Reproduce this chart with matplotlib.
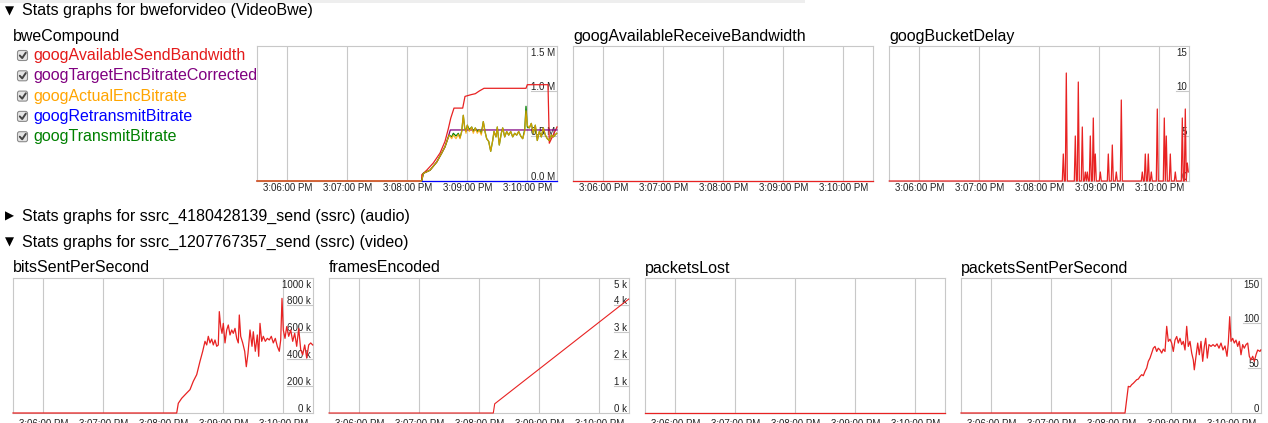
import numpy as np
import matplotlib
matplotlib.use('Agg')
import matplotlib.pyplot as plt
from matplotlib.patches import FancyBboxPatch, Rectangle

W, H = 1268, 423
plt.rcParams['font.family'] = ['Liberation Sans', 'DejaVu Sans']

GRID = '#c8c8c8'

# time axis in seconds after 3:06:00 PM
time_ticks = [0, 60, 120, 180, 240]
time_labels = ['3:06:00 PM', '3:07:00 PM', '3:08:00 PM', '3:09:00 PM', '3:10:00 PM']
t_min, t_max = -30.3, 269.7

# bweCompound (values in M)
send_bw_t = [-30.3, 134.4, 134.5, 139.4, 146, 152.7, 157.7, 161, 163.5, 166.7, 175.4, 177.7, 184, 188,
             192, 196.7, 238.7, 240, 260.7, 262, 269.7]
send_bw_v = [0, 0, 0.07, 0.12, 0.20, 0.31, 0.44, 0.58, 0.70, 0.81, 0.81, 0.94, 0.96, 0.97,
             1.0, 1.03, 1.03, 1.07, 1.07, 0.42, 0.60]

target_t = [-30.3, 134.4, 136, 142.7, 149.4, 154.4, 157.7, 160, 163, 269.7]
target_v = [0, 0, 0.085, 0.12, 0.21, 0.31, 0.38, 0.455, 0.567, 0.567]

actual_t = [-30.3, 134.4, 136, 142.7, 149.4, 154.4, 157.7, 160, 162, 164.4, 166, 168.7, 171, 172.7,
            174.4, 176, 177.4, 178.7, 180, 182, 184.4, 186, 188, 190, 192, 194, 196, 197.7, 199.4,
            201.4, 203.4, 205.4, 206.7, 208.7, 210, 212, 214, 215.4, 217.4, 219.4, 221.4, 223.4,
            225.4, 227.4, 229.4, 231.4, 233.4, 235.4, 237.4, 238.7, 240, 242, 244, 246, 248, 250,
            252, 254, 256, 258, 260, 262, 264, 266, 269.4]
actual_v = [0, 0, 0.085, 0.12, 0.21, 0.31, 0.38, 0.455, 0.51, 0.47, 0.51, 0.47, 0.52, 0.47,
            0.55, 0.73, 0.59, 0.53, 0.62, 0.55, 0.60, 0.53, 0.59, 0.53, 0.57, 0.51, 0.66, 0.55, 0.47,
            0.44, 0.33, 0.45, 0.55, 0.49, 0.60, 0.40, 0.53, 0.59, 0.49, 0.55, 0.51, 0.55,
            0.49, 0.53, 0.51, 0.55, 0.50, 0.47, 0.55, 0.78, 0.62, 0.59, 0.64, 0.53, 0.62, 0.45,
            0.55, 0.49, 0.59, 0.51, 0.47, 0.45, 0.51, 0.49, 0.53]

retransmit_t = [134.4, 269.7]
retransmit_v = [0, 0]

transmit_t = actual_t[1:]
transmit_v = [0, 0.085, 0.12, 0.21, 0.31, 0.38, 0.455, 0.51, 0.49, 0.53, 0.50, 0.53, 0.48,
              0.55, 0.73, 0.59, 0.55, 0.62, 0.57, 0.60, 0.55, 0.59, 0.55, 0.57, 0.53, 0.66, 0.55, 0.47,
              0.44, 0.33, 0.45, 0.55, 0.49, 0.60, 0.40, 0.53, 0.59, 0.49, 0.55, 0.51, 0.55,
              0.49, 0.53, 0.51, 0.55, 0.50, 0.47, 0.57, 0.83, 0.60, 0.59, 0.64, 0.53, 0.62, 0.45,
              0.55, 0.49, 0.59, 0.51, 0.47, 0.45, 0.51, 0.49, 0.53]

# googBucketDelay: one sample per second, spikes only
delay_spike_t = [144, 147, 156, 159, 163, 166, 168, 171, 174, 176, 181, 189, 193, 197, 202,
                 223, 226, 229, 232, 238, 245, 247, 251, 256, 263, 266, 268, 269]
delay_spike_v = [3, 12, 5, 11, 6, 1, 1, 5, 7, 3, 1, 3, 4, 1, 9,
                 1, 3, 3, 1, 8, 7, 5, 3, 1, 7, 8, 2, 1]

# bitsSentPerSecond (k)
bits_t = [-30.3, 133.4, 135, 138.4, 143.4, 146.7, 150, 153.4, 156.7, 159.4, 161.7, 163.4, 165, 166.7,
          168.4, 170, 171.7, 173.4, 175, 176, 177.4, 178.7, 180, 181.7, 183.4, 185, 186.7, 188.4,
          190, 191.7, 193.4, 195, 196, 197.4, 199.4, 201.4, 203, 204.7, 206.7, 208.7, 210, 212,
          214, 215.4, 216.7, 218.4, 220, 222, 224, 226, 228, 230, 232, 234, 236, 237.4, 238.7,
          240, 241.7, 243.4, 245.4, 247.4, 249.4, 251.4, 253.4, 255.4, 257.4, 259.4, 261.4, 263.4,
          265.4, 267.4, 269.4]
bits_v = [0, 0, 72, 109, 148, 173, 235, 284, 383, 457, 531, 504, 568, 519,
          548, 504, 541, 494, 504, 751, 640, 590, 664, 519, 615, 652, 578, 615,
          590, 627, 553, 519, 726, 568, 519, 457, 343, 442, 615, 494, 602, 457,
          578, 420, 664, 531, 568, 531, 553, 541, 568, 519, 553, 494, 457, 541, 849,
          615, 553, 640, 568, 615, 531, 590, 494, 627, 469, 432, 504, 407,
          504, 519, 504]

# framesEncoded
frames_t = [-30.3, 134, 135.4, 269.4]
frames_v = [0, 0, 340, 4220]

# packetsSentPerSecond
packets_t = [-30.3, 133.7, 137, 138.7, 140.4, 142, 143.7, 145.4, 147, 148.7, 150.4, 152, 153.7, 155.4,
             157, 158.7, 160.4, 162, 163.7, 165.4, 167, 168.7, 170.4, 172, 173.7, 175.4, 177, 178.7,
             180.4, 182, 183.7, 185.4, 187, 188.7, 190.4, 192, 193.7, 195.4, 197, 198.7, 200.4, 202,
             203, 204.7, 206.4, 208, 209.7, 211.4, 213, 214.4, 216, 217.7, 219.7, 221.7, 223.7,
             225.7, 227.7, 229.7, 231.7, 233.7, 235.7, 237, 238.4, 239.7, 241.4, 243, 244.7, 246.4,
             248, 249.7, 251.4, 253, 254.7, 256.4, 258, 259.7, 261.4, 263, 264.7, 266.4, 268.7, 269.4]
packets_v = [0, 0, 29.6, 29, 31.5, 33, 35, 37, 37.7, 40.5, 42.6, 41.4, 46.3, 50,
             57.4, 61, 66.6, 72, 74, 68.4, 72, 70, 66.6, 71, 68.4, 96.3, 79.6, 82,
             77.7, 68.4, 81, 85, 77.7, 83, 76, 79.6, 70, 96.3, 74, 79.6, 66.6, 59,
             48, 63, 77.7, 64.7, 79.6, 57.4, 74, 83, 61, 76, 74, 76, 74,
             76.8, 72, 77.7, 70, 74.5, 63, 77.7, 107, 79.6, 83, 77.7, 81, 74,
             79.6, 64.7, 76, 72, 76, 77.7, 63, 59, 63, 57.4, 64.7, 70, 68.4, 70]

legend_names = ['googAvailableSendBandwidth', 'googTargetEncBitrateCorrected', 'googActualEncBitrate',
                'googRetransmitBitrate', 'googTransmitBitrate']
legend_colors = ['#e41a1a', 'purple', 'orange', 'blue', 'green']

RED = '#e82222'

fig = plt.figure(figsize=(W / 100, H / 100), dpi=100)
bg = fig.add_axes([0, 0, 1, 1])
bg.set_xlim(0, W)
bg.set_ylim(H, 0)
bg.axis('off')

bg.add_patch(Rectangle((0, 0), 805, 3, fc='#eeeeee', ec='none'))


def header(y, arrow, text):
    bg.text(5, y, arrow, fontsize=8.5, va='center', family='DejaVu Sans')
    bg.text(22, y, text, fontsize=11.5, va='center')


header(11, '▼', 'Stats graphs for bweforvideo (VideoBwe)')
header(216, '▶', 'Stats graphs for ssrc_4180428139_send (ssrc) (audio)')
header(242, '▼', 'Stats graphs for ssrc_1207767357_send (ssrc) (video)')

# legend with checkboxes
for i, (name, col) in enumerate(zip(legend_names, legend_colors)):
    y = 55.5 + i * 20.3
    bg.add_patch(FancyBboxPatch((17.5, y - 5), 10, 10, boxstyle='round,pad=0,rounding_size=2',
                                fc='#e4e4e4', ec='#8c8c8c', lw=0.8))
    bg.plot([19.8, 22.2, 25.8], [y, y + 2.6, y - 2.8], color='#444444', lw=1.4,
            solid_capstyle='round')
    bg.text(33, y, name, color=col, fontsize=11.5, va='center')

renderer = fig.canvas.get_renderer()


def add_chart(x0, y0, title, ymax=1.0, labels=None, title_x=None, pad=1.5):
    ax = fig.add_axes([x0 / W, 1 - (y0 + 135) / H, 300 / W, 135 / H])
    ax.set_xlim(t_min, t_max)
    ax.set_ylim(0, ymax)
    for s in ax.spines.values():
        s.set_color(GRID)
        s.set_linewidth(0.8)
    ax.set_xticks(time_ticks, time_labels)
    ax.tick_params(axis='x', length=0, pad=pad, labelsize=7, colors='#222222')
    ax.set_yticks([])
    for t in time_ticks:
        ax.axvline(t, color=GRID, lw=0.8, zorder=0)
    bg.text(x0 if title_x is None else title_x, y0 - 10, title, fontsize=11.5, va='center')
    if labels:
        yt = ax.get_yaxis_transform()
        for k, (val, txt) in enumerate(labels):
            top = k == len(labels) - 1
            tx = ax.annotate(txt, xy=(1, val), xycoords=yt, xytext=(-2, -2 if top else 1),
                             textcoords='offset pixels', ha='right',
                             va='top' if top else 'baseline', fontsize=7, color='#222222')
            if not top and val > 0:
                bb = tx.get_window_extent(renderer)
                xa = ax.transAxes.inverted().transform((bb.x0, 0))[0]
                ax.plot([xa, 1], [val, val], transform=yt, color=GRID, lw=0.8, zorder=1)
    return ax


def line(ax, t, v, color=RED, lw=0.9, **kw):
    ax.plot(t, v, color=color, lw=lw, clip_on=False, zorder=3, **kw)


# top row
ax = add_chart(257, 46, 'bweCompound', 1.5,
               [(0, '0.0 M'), (0.5, '0.5 M'), (1.0, '1.0 M'), (1.5, '1.5 M')], title_x=13)
line(ax, send_bw_t, send_bw_v)
line(ax, target_t, target_v, color='purple')
line(ax, transmit_t, transmit_v, color='green')
line(ax, actual_t, actual_v, color='orange', alpha=0.8)
line(ax, retransmit_t, retransmit_v, color='blue')

ax = add_chart(573, 46, 'googAvailableReceiveBandwidth')
line(ax, [t_min, t_max], [0, 0])

ax = add_chart(889, 46, 'googBucketDelay', 15, [(0, '0'), (5, '5'), (10, '10'), (15, '15')])
delay_t = np.arange(-30, 270)
delay_v = np.zeros(len(delay_t))
delay_v[np.searchsorted(delay_t, delay_spike_t)] = delay_spike_v
line(ax, delay_t, delay_v)

# bottom row
ax = add_chart(13, 278, 'bitsSentPerSecond', 1000,
               [(0, '0 k'), (200, '200 k'), (400, '400 k'), (600, '600 k'), (800, '800 k'), (1000, '1000 k')],
               pad=4)
line(ax, bits_t, bits_v)

ax = add_chart(329, 278, 'framesEncoded', 5000,
               [(0, '0 k'), (1000, '1 k'), (2000, '2 k'), (3000, '3 k'), (4000, '4 k'), (5000, '5 k')],
               pad=4)
line(ax, frames_t, frames_v, lw=0.8)

ax = add_chart(645, 278, 'packetsLost', pad=4)
line(ax, [t_min, t_max], [0, 0])

ax = add_chart(961, 278, 'packetsSentPerSecond', 150, [(0, '0'), (50, '50'), (100, '100'), (150, '150')],
               pad=4)
line(ax, packets_t, packets_v)

fig.savefig('out.png', dpi=100)
